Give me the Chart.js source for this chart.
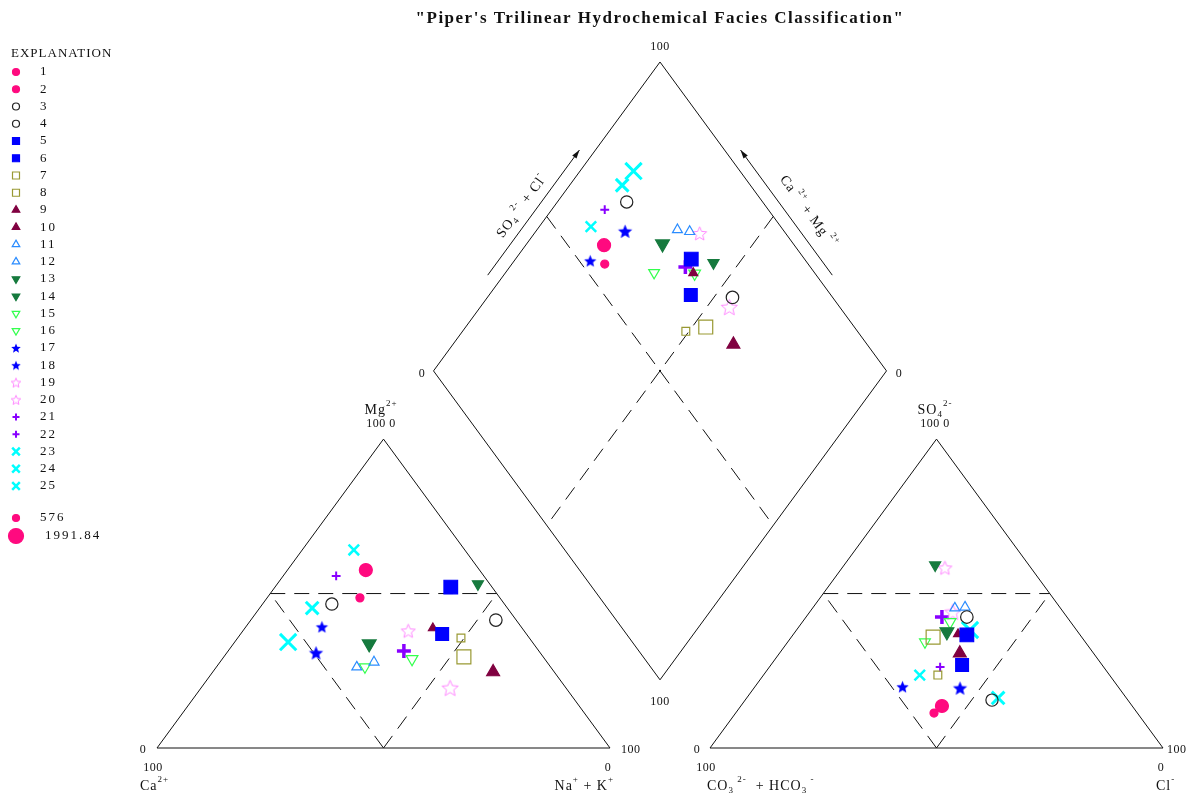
<!DOCTYPE html>
<html>
<head>
<meta charset="utf-8">
<script src="https://cdn.jsdelivr.net/npm/chart.js@4.4.0/dist/chart.umd.min.js"></script>
<style>
  body { margin: 0; background: #fff; }
  #wrap { width: 1198px; height: 796px; position: relative; }
</style>
</head>
<body>
<div id="wrap"><canvas id="piper" width="1198" height="796"></canvas></div>
<script>
// sample labels and milliequivalent percentages
const samples = ['1','2','3','4','5','6','7','8','9','10','11','12','13','14','15','16','17','18','19','20','21','22','23','24','25'];
const ca   = [30.9, 25.1, 38.1,  4.5, 18.6,  9.1, 15.1, 17.5, 19.7, 13.5, 42.8, 38.2,  2.6, 36.3, 41.0, 29.3, 44.0, 49.5, 25.6, 25.6, 32.6, 29.8, 24.5, 43.1, 53.9];
const mg   = [48.6, 57.6, 46.6, 41.4, 36.9, 52.1, 35.6, 29.5, 38.8, 24.6, 26.2, 27.8, 53.1, 33.7, 26.2, 28.8, 39.2, 30.8, 37.9, 19.4, 55.7, 31.4, 64.1, 45.3, 34.3];
const naK  = [20.5, 17.3, 15.3, 54.1, 44.5, 38.8, 49.3, 53.0, 41.5, 61.9, 31.0, 34.0, 44.3, 30.0, 32.8, 41.9, 16.8, 19.7, 36.5, 55.0, 11.7, 38.8, 11.4, 11.6, 11.8];
const hco3 = [44.9, 42.0, 30.0, 22.1, 30.9, 25.0, 37.9, 32.8, 26.8, 29.5, 23.3, 20.9, 20.7, 28.9, 35.4, 26.6, 47.6, 35.1, 19.0, 24.4, 36.1, 27.6, 41.9, 28.3, 23.5];
const so4  = [11.3, 13.6, 15.5, 42.4, 26.9, 36.6, 23.6, 35.9, 36.9, 30.7, 45.3, 45.6, 59.2, 37.6, 34.3, 40.8, 19.8, 19.4, 58.3, 44.0, 26.2, 42.4, 23.6, 16.2, 38.2];
const cl   = [43.8, 44.4, 54.5, 35.5, 42.2, 38.4, 38.5, 31.3, 36.3, 39.8, 31.4, 33.5, 20.1, 33.5, 30.3, 32.6, 32.6, 45.5, 22.7, 31.6, 37.7, 30.0, 34.5, 55.5, 38.3];
const tds  = [760, 1640, 1500, 1550, 1600, 1750, 720, 1800, 800, 1450, 950, 980, 1150, 1600, 1100, 1250, 1100, 1450, 1400, 1800, 900, 1800, 1050, 1400, 1990];
const sizeKeys = [576, 1991.84];

const GAP = 100 * 100 / 453;
const S = Math.sqrt(3) / 2;
const SERIF = "'Liberation Serif', 'Times New Roman', serif";

// symbol for each pair of samples (23-25 share the last one)
const symbols = [
  { kind: 'circle',   color: '#ff0a7f', fill: true },
  { kind: 'circle',   color: '#222222', fill: false },
  { kind: 'rect',     color: '#0000ff', fill: true },
  { kind: 'rect',     color: '#999933', fill: false },
  { kind: 'triangle', color: '#800040', fill: true },
  { kind: 'triangle', color: '#2a8cff', fill: false },
  { kind: 'down',     color: '#167a3e', fill: true },
  { kind: 'down',     color: '#33ff4d', fill: false },
  { kind: 'star',     color: '#0000ff', fill: true },
  { kind: 'star',     color: '#ff88ff', fill: false },
  { kind: 'plus',     color: '#8800ff', fill: true },
  { kind: 'x',        color: '#00ffff', fill: true }
];
const symbolOf = i => symbols[Math.min(11, Math.floor(i / 2))];

const diam = t => 7 + (t - 576) / (1991.84 - 576) * 8;

function starCanvas(d, color, filled) {
  const c = document.createElement('canvas');
  const s = Math.ceil(d) + 4;
  c.width = s; c.height = s;
  const g = c.getContext('2d');
  const R = d / 2, r = R * 0.45;
  g.beginPath();
  for (let k = 0; k < 10; k++) {
    const a = -Math.PI / 2 + k * Math.PI / 5;
    const rr = k % 2 ? r : R;
    const px = s / 2 + rr * Math.cos(a), py = s / 2 + 0.6 + rr * Math.sin(a);
    k ? g.lineTo(px, py) : g.moveTo(px, py);
  }
  g.closePath();
  if (filled) { g.fillStyle = color; g.fill(); }
  else { g.strokeStyle = color; g.lineWidth = 1; g.stroke(); }
  return c;
}

// turn a symbol + visual size into chart.js point options
function pointOpts(sym, d) {
  const o = { rotation: 0, borderWidth: 1.2, bg: sym.fill ? sym.color : 'rgba(0,0,0,0)' };
  switch (sym.kind) {
    case 'circle': o.style = 'circle'; o.radius = d / 2; break;
    case 'rect': o.style = 'rect'; o.radius = d / 1.414; break;
    case 'triangle': o.style = 'triangle'; o.radius = d / 1.6; break;
    case 'down': o.style = 'triangle'; o.radius = d / 1.6; o.rotation = 180; break;
    case 'plus': o.style = 'cross'; o.radius = d / 2; o.borderWidth = d > 10 ? 3.5 : 2; break;
    case 'x': o.style = 'crossRot'; o.radius = d / 1.3; o.borderWidth = d > 10 ? 3 : 2.5; break;
    case 'star': o.style = starCanvas(d + 3, sym.color, sym.fill); o.radius = d / 2; break;
  }
  return o;
}

const cationXY = i => ({ x: naK[i] + mg[i] / 2, y: mg[i] * S });
const anionXY = i => ({ x: 100 + GAP + cl[i] + so4[i] / 2, y: so4[i] * S });
const diamondXY = i => {
  const A = so4[i] + cl[i], C = ca[i] + mg[i];
  return { x: 100 + GAP / 2 + (A - C) / 2, y: GAP * S + (A + C) * S };
};

const datasets = samples.map((name, i) => {
  const sym = symbolOf(i);
  const o = pointOpts(sym, diam(tds[i]));
  return {
    label: name,
    data: [cationXY(i), anionXY(i), diamondXY(i)],
    showLine: false,
    pointStyle: o.style,
    pointRadius: o.radius,
    pointHoverRadius: o.radius,
    pointRotation: o.rotation,
    borderWidth: o.borderWidth,
    borderColor: sym.color,
    backgroundColor: o.bg,
    clip: false
  };
});

// frame: triangles, diamond, dashed subdivisions, arrows
const framePlugin = {
  id: 'frame',
  beforeDatasetsDraw(chart) {
    const { ctx, scales: { x, y } } = chart;
    const P = (a, b) => [x.getPixelForValue(a), y.getPixelForValue(b)];
    const H = 100 * S, off = 100 + GAP;
    const poly = (pts, close) => {
      ctx.beginPath();
      pts.forEach((p, k) => { const q = P(p[0], p[1]); k ? ctx.lineTo(q[0], q[1]) : ctx.moveTo(q[0], q[1]); });
      if (close) ctx.closePath();
      ctx.stroke();
    };
    const mid = (p, q) => [(p[0] + q[0]) / 2, (p[1] + q[1]) / 2];
    ctx.save();
    ctx.strokeStyle = '#111';
    ctx.lineWidth = 1;
    poly([[0, 0], [100, 0], [50, H]], true);
    poly([[off, 0], [off + 100, 0], [off + 50, H]], true);
    const bot = [100 + GAP / 2, GAP * S], lef = [50 + GAP / 2, H + GAP * S],
          top = [100 + GAP / 2, 2 * H + GAP * S], rig = [150 + GAP / 2, H + GAP * S];
    poly([bot, lef, top, rig], true);

    ctx.setLineDash([15, 9]);
    [0, off].forEach(o => {
      poly([[o + 25, H / 2], [o + 75, H / 2]]);
      poly([[o + 50, 0], [o + 25, H / 2]]);
      poly([[o + 50, 0], [o + 75, H / 2]]);
    });
    poly([mid(lef, top), mid(rig, bot)]);
    poly([mid(top, rig), mid(bot, lef)]);
    ctx.setLineDash([]);
    const c = P(bot[0], lef[1]);
    ctx.fillStyle = '#111';
    ctx.fillRect(c[0] - 1, c[1] - 1, 2, 2);

    // arrows beside the upper edges of the diamond
    const arrow = (from, to, dx) => {
      const a = P(from[0], from[1]), b = P(to[0], to[1]);
      const p1 = [a[0] + (b[0] - a[0]) * 0.31 + dx, a[1] + (b[1] - a[1]) * 0.31];
      const p2 = [a[0] + (b[0] - a[0]) * 0.715 + dx, a[1] + (b[1] - a[1]) * 0.715];
      ctx.beginPath(); ctx.moveTo(p1[0], p1[1]); ctx.lineTo(p2[0], p2[1]); ctx.stroke();
      const ang = Math.atan2(p2[1] - p1[1], p2[0] - p1[0]);
      ctx.beginPath();
      ctx.moveTo(p2[0], p2[1]);
      ctx.lineTo(p2[0] - 9 * Math.cos(ang - 0.3), p2[1] - 9 * Math.sin(ang - 0.3));
      ctx.lineTo(p2[0] - 9 * Math.cos(ang + 0.3), p2[1] - 9 * Math.sin(ang + 0.3));
      ctx.closePath(); ctx.fill();
    };
    arrow(lef, top, -16);
    arrow(rig, top, 16);
    ctx.restore();
  }
};

// draw text made of normal / superscript / subscript pieces
function rich(ctx, parts, x, y, align, size, spacing) {
  ctx.letterSpacing = (spacing || 0) + 'px';
  const fontFor = k => (k === 'n' ? size : Math.round(size * 0.62)) + 'px ' + SERIF;
  let w = 0;
  parts.forEach(([t, k]) => { ctx.font = fontFor(k); w += ctx.measureText(t).width; });
  let cx = align === 'center' ? x - w / 2 : align === 'right' ? x - w : x;
  ctx.textAlign = 'left';
  ctx.textBaseline = 'middle';
  parts.forEach(([t, k]) => {
    ctx.font = fontFor(k);
    const dy = k === 'sup' ? -size * 0.45 : k === 'sub' ? size * 0.3 : 0;
    ctx.fillText(t, cx, y + dy);
    cx += ctx.measureText(t).width;
  });
  ctx.letterSpacing = '0px';
}

function drawMarker(ctx, sym, d, px, py) {
  const o = pointOpts(sym, d);
  ctx.save();
  ctx.strokeStyle = sym.color;
  ctx.fillStyle = o.bg;
  ctx.lineWidth = o.borderWidth;
  if (Chart.helpers && Chart.helpers.drawPoint) {
    Chart.helpers.drawPoint(ctx, { pointStyle: o.style, rotation: o.rotation, radius: o.radius, borderWidth: o.borderWidth }, px, py);
  }
  ctx.restore();
}

const textPlugin = {
  id: 'texts',
  afterDraw(chart) {
    const ctx = chart.ctx;
    ctx.save();
    ctx.fillStyle = '#111';
    ctx.font = 'bold 17px ' + SERIF;
    ctx.letterSpacing = '1.5px';
    ctx.textAlign = 'center';
    ctx.textBaseline = 'middle';
    ctx.fillText('"Piper\'s Trilinear Hydrochemical Facies Classification"', 660, 19);
    ctx.letterSpacing = '0px';

    const T = (parts, x, y, align) => rich(ctx, parts, x, y, align || 'center', 12, 0.5);
    const L = (parts, x, y, align) => rich(ctx, parts, x, y, align || 'center', 14, 1);
    T([['100', 'n']], 660, 47);
    T([['0', 'n']], 422, 374);
    T([['0', 'n']], 899, 374);
    T([['100', 'n']], 660, 702);
    L([['Mg', 'n'], ['2+', 'sup']], 381, 410);
    T([['100 0', 'n']], 381, 424);
    L([['SO', 'n'], ['4', 'sub'], ['2-', 'sup']], 935, 410);
    T([['100 0', 'n']], 935, 424);
    T([['0', 'n']], 143, 750);
    T([['100', 'n']], 621, 750, 'left');
    T([['100', 'n']], 153, 768);
    L([['Ca', 'n'], ['2+', 'sup']], 140, 786, 'left');
    T([['0', 'n']], 608, 768);
    L([['Na', 'n'], ['+', 'sup'], [' + K', 'n'], ['+', 'sup']], 614, 786, 'right');
    T([['0', 'n']], 697, 750);
    T([['100', 'n']], 1167, 750, 'left');
    T([['100', 'n']], 706, 768);
    L([['CO', 'n'], ['3', 'sub'], [' 2-', 'sup'], ['  + HCO', 'n'], ['3', 'sub'], [' -', 'sup']], 707, 786, 'left');
    T([['0', 'n']], 1161, 768);
    L([['Cl', 'n'], ['-', 'sup']], 1156, 786, 'left');

    // rotated axis names beside the arrows
    ctx.save();
    ctx.translate(522, 206);
    ctx.rotate(-53.8 * Math.PI / 180);
    L([['SO', 'n'], ['4', 'sub'], [' 2-', 'sup'], [' + Cl', 'n'], ['-', 'sup']], 0, 0);
    ctx.restore();
    ctx.save();
    ctx.translate(808, 212);
    ctx.rotate(53.8 * Math.PI / 180);
    L([['Ca', 'n'], [' 2+', 'sup'], [' + Mg', 'n'], [' 2+', 'sup']], 0, 0);
    ctx.restore();

    // explanation block
    ctx.fillStyle = '#111';
    ctx.font = '13px ' + SERIF;
    ctx.letterSpacing = '1px';
    ctx.textAlign = 'left';
    ctx.textBaseline = 'middle';
    ctx.fillText('EXPLANATION', 11, 54);
    const label = (t, xx, yy) => {
      ctx.fillStyle = '#111';
      ctx.font = '13px ' + SERIF;
      ctx.letterSpacing = '2px';
      ctx.textAlign = 'left';
      ctx.textBaseline = 'middle';
      ctx.fillText(t, xx, yy);
      ctx.letterSpacing = '0px';
    };
    samples.forEach((name, i) => {
      const yy = 72 + i * 17.25;
      drawMarker(ctx, symbolOf(i), 7, 16, yy);
      label(name, 40, yy);
    });
    sizeKeys.forEach((v, k) => {
      const yy = 518 + k * 18;
      drawMarker(ctx, symbols[0], diam(v), 16, yy);
      label(String(v), k ? 45 : 40, yy);
    });
    ctx.restore();
  }
};

new Chart(document.getElementById('piper'), {
  type: 'scatter',
  data: { datasets: datasets },
  options: {
    responsive: false,
    animation: false,
    layout: { padding: { left: 157, right: 35, top: 62, bottom: 48 } },
    plugins: { legend: { display: false }, tooltip: { enabled: false } },
    scales: {
      x: { type: 'linear', display: false, min: 0, max: 200 + GAP },
      y: { type: 'linear', display: false, min: 0, max: 200 * S + GAP * S }
    }
  },
  plugins: [framePlugin, textPlugin]
});
</script>
</body>
</html>
